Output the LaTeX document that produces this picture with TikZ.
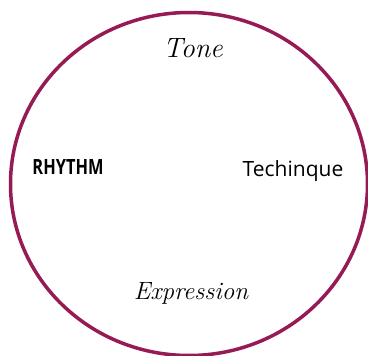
\documentclass[tikz,border=0pt]{standalone}
\usepackage{fontspec}
\setsansfont{Open Sans}
\usepackage{tikz}
\usetikzlibrary{shapes.geometric}
\definecolor{ringred}{HTML}{961B55}

\begin{document}
\begin{tikzpicture}[x=1pt,y=-1pt,
 word/.style={inner sep=0pt,text=black}]
\clip (0,0) rectangle (368,356);
\useasboundingbox (0,0) rectangle (368,356);
\node[draw=ringred,line width=3.5pt,ellipse,minimum width=357pt,minimum height=343pt] (ring) at (189,184) {};
\node[word,font=\fontsize{28}{32}\selectfont\itshape] (tone) at (193,48) {Tone};
\node[word,font=\fontsize{21}{24}\selectfont\sffamily\bfseries] (rhythm) at (68,167) {\scalebox{0.78}[1]{RHYTHM}};
\node[word,font=\fontsize{21}{24}\selectfont\sffamily] (technique) at (293,171) {Techinque};
\node[word,font=\fontsize{25}{28}\selectfont\itshape] (expression) at (191,293) {Expression};
\end{tikzpicture}
\end{document}
